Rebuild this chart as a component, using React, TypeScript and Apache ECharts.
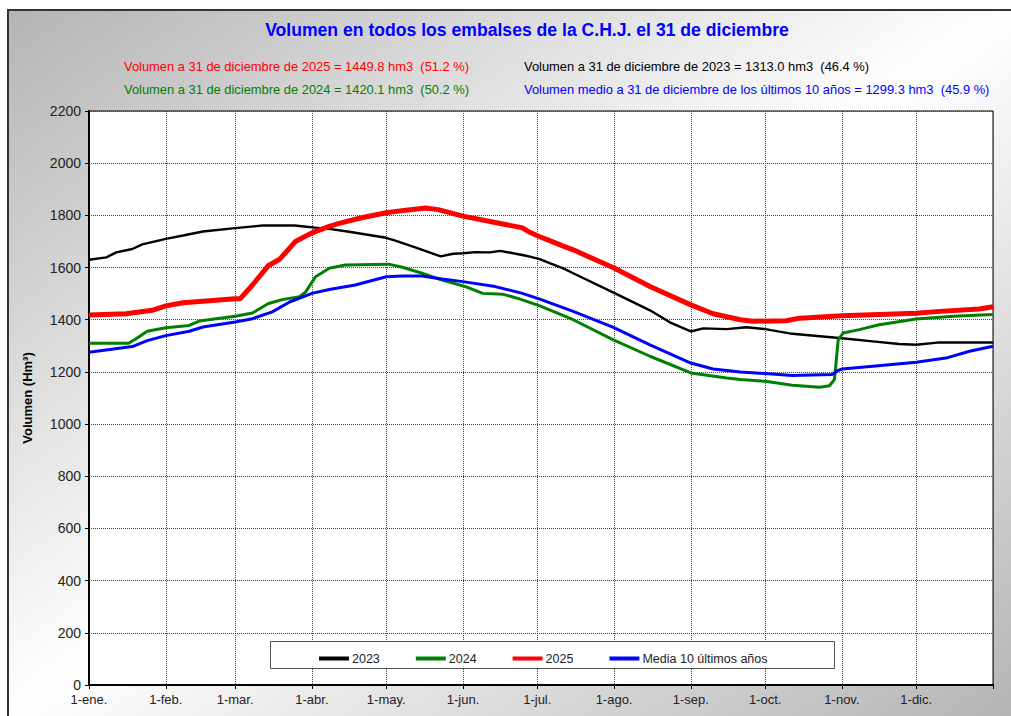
import React, { useEffect, useRef } from "react";
import * as echarts from "echarts";

const monthStarts = [0, 31, 59, 90, 120, 151, 181, 212, 243, 273, 304, 334];
const monthLabels = ["1-ene.", "1-feb.", "1-mar.", "1-abr.", "1-may.", "1-jun.", "1-jul.", "1-ago.", "1-sep.", "1-oct.", "1-nov.", "1-dic."];
const tickDays = [...monthStarts, 365];

const seriesNames = ["2023", "2024", "2025", "Media 10 últimos años"];
const seriesColors = ["#000000", "#008000", "#ff0000", "#0000ff"];
const seriesWidths = [2.4, 3, 5, 3];

const days2023 = [0, 7, 11, 17.5, 21.5, 31, 38, 46, 59, 70, 83, 94, 97, 105, 120, 124, 132, 142, 147, 151, 156, 162, 166, 176, 178, 182, 186, 191.5, 195.5, 212, 226.5, 234.5, 243, 248, 257.5, 265.5, 273, 284, 304, 316.5, 327, 334, 343.5, 365];
const vals2023 = [1630, 1639, 1658, 1671, 1689, 1710, 1723, 1738, 1751, 1761, 1761, 1750, 1748, 1737, 1714, 1702, 1676, 1643, 1653, 1655, 1659, 1658, 1664, 1646, 1642, 1632, 1617, 1597, 1578, 1503, 1436, 1390, 1355, 1367, 1364, 1371, 1364, 1346, 1329, 1317, 1307, 1304, 1313, 1313];

const days2024 = [0, 16, 19, 23.5, 31, 40.5, 44.5, 59, 66, 72.5, 78, 85, 87.5, 91.5, 97, 103.5, 121, 126.5, 134.5, 142.5, 152, 159, 167, 173.5, 182, 195.5, 211.5, 226.5, 243, 257.5, 263, 273, 284, 295, 299, 301, 302.5, 304.5, 311, 319, 334, 349, 365];
const vals2024 = [1310, 1310, 1327, 1356, 1369, 1378, 1395, 1413, 1426, 1462, 1477, 1488, 1507, 1565, 1597, 1610, 1613, 1601, 1578, 1552, 1527, 1501, 1498, 1481, 1453, 1400, 1324, 1260, 1196, 1177, 1171, 1164, 1149, 1141, 1147, 1171, 1324, 1349, 1362, 1381, 1403, 1413, 1420];

const days2025 = [0, 15, 25.5, 31, 38, 59, 61, 66, 72.5, 77, 83.5, 90, 97, 101, 110, 120, 128, 136, 141, 151, 165, 175, 178, 182, 186, 191.5, 195.5, 212, 226.5, 243, 252, 263, 268, 281.5, 287, 304, 334, 343.5, 359.5, 365];
const vals2025 = [1418, 1423, 1436, 1453, 1465, 1480, 1480, 1533, 1608, 1632, 1701, 1733, 1758, 1769, 1791, 1810, 1820, 1828, 1822, 1797, 1771, 1752, 1735, 1718, 1703, 1682, 1668, 1598, 1527, 1457, 1423, 1400, 1394, 1396, 1406, 1415, 1425, 1432, 1441, 1450];

const daysMedia = [0, 17.5, 23.5, 31, 40.5, 46, 59, 66, 74, 81, 90, 97, 107.5, 120, 126.5, 134.5, 142.5, 151, 164, 175, 182, 195.5, 211.5, 226.5, 243, 252, 263, 273, 284, 300, 302.5, 304, 316.5, 334, 346, 355.5, 365];
const valsMedia = [1275, 1297, 1320, 1339, 1356, 1372, 1391, 1404, 1430, 1468, 1501, 1516, 1533, 1565, 1568, 1568, 1556, 1546, 1527, 1501, 1479, 1432, 1372, 1304, 1234, 1211, 1200, 1194, 1186, 1190, 1206, 1211, 1222, 1237, 1253, 1279, 1298];

const titleText = "Volumen en todos los embalses de la C.H.J. el 31 de diciembre";
const infoTexts = [
  "Volumen a 31 de diciembre de 2025 = 1449.8 hm3  (51.2 %)",
  "Volumen a 31 de diciembre de 2023 = 1313.0 hm3  (46.4 %)",
  "Volumen a 31 de diciembre de 2024 = 1420.1 hm3  (50.2 %)",
  "Volumen medio a 31 de diciembre de los últimos 10 años = 1299.3 hm3  (45.9 %)",
];
const infoColors = ["#ff0000", "#000000", "#008000", "#0000ff"];

const allDays = [days2023, days2024, days2025, daysMedia];
const allVals = [vals2023, vals2024, vals2025, valsMedia];

export default function App() {
  const ref = useRef<HTMLDivElement>(null);
  useEffect(() => {
    if (!ref.current) return;
    const chart = echarts.init(ref.current, null, { renderer: "svg" });
    const font = "Arial, 'Liberation Sans', sans-serif";
    const infoPos = [
      [124, 66],
      [524, 66],
      [124, 89],
      [524, 89],
    ];
    chart.setOption({
      animation: false,
      textStyle: { fontFamily: font },
      grid: {
        left: 89,
        top: 111,
        right: 18,
        bottom: 31,
        show: true,
        backgroundColor: "#ffffff",
        borderColor: "#000000",
        borderWidth: 1,
      },
      graphic: [
        {
          type: "rect",
          z: -10,
          shape: { x: 8, y: 10, width: 1020, height: 720 },
          style: {
            fill: {
              type: "linear",
              x: 8,
              y: 10,
              x2: 672,
              y2: 954,
              global: true,
              colorStops: [
                { offset: 0, color: "#b4b4b4" },
                { offset: 0.5, color: "#ffffff" },
                { offset: 1, color: "#b4b4b4" },
              ],
            },
            stroke: "#333333",
            lineWidth: 2,
          },
        },
        {
          type: "text",
          x: 527,
          y: 30,
          style: {
            text: titleText,
            fill: "#0000ff",
            font: `bold 17.6px ${font}`,
            textAlign: "center",
            textVerticalAlign: "middle",
          },
        },
        ...infoTexts.map((t, i) => ({
          type: "text",
          x: infoPos[i][0],
          y: infoPos[i][1],
          style: {
            text: t,
            fill: infoColors[i],
            font: `12.9px ${font}`,
            textAlign: "left",
            textVerticalAlign: "middle",
          },
        })),
        {
          type: "rect",
          z: 3,
          shape: { x: 270.5, y: 641.5, width: 564, height: 27 },
          style: { fill: "#ffffff", stroke: "#555555", lineWidth: 1 },
        },
      ],
      legend: {
        left: 314,
        top: 647,
        z: 5,
        itemGap: 36,
        itemWidth: 30,
        itemHeight: 4,
        icon: "rect",
        textStyle: { fontSize: 12.5, color: "#222222", fontFamily: font, padding: [0, 0, 0, -2] },
        data: seriesNames,
      },
      xAxis: {
        type: "value",
        min: 0,
        max: 365,
        axisLine: { show: true, lineStyle: { color: "#000", width: 2 } },
        axisTick: { show: true, customValues: tickDays, length: 4, lineStyle: { color: "#000" } },
        axisLabel: {
          customValues: monthStarts,
          color: "#222",
          fontSize: 13,
          margin: 8,
          formatter: (v: number) => {
            const i = monthStarts.indexOf(Math.round(v));
            return i >= 0 ? monthLabels[i] : "";
          },
        },
        splitLine: { show: true, lineStyle: { color: "#444", type: [1, 1], width: 1 } },
      },
      yAxis: {
        type: "value",
        min: 0,
        max: 2200,
        interval: 200,
        name: "Volumen (Hm³)",
        nameLocation: "middle",
        nameGap: 55,
        nameTextStyle: { fontWeight: "bold", fontSize: 13, color: "#000" },
        axisLine: { show: true, lineStyle: { color: "#000", width: 2 } },
        axisTick: { show: true, length: 4, lineStyle: { color: "#000" } },
        axisLabel: { color: "#222", fontSize: 14, margin: 8, formatter: (v: number) => String(v) },
        splitLine: { show: true, lineStyle: { color: "#444", type: [1, 1], width: 1 } },
      },
      series: seriesNames.map((name, i) => ({
        name,
        type: "line",
        symbol: "none",
        showSymbol: false,
        z: 2 + i * 0.1,
        itemStyle: { color: seriesColors[i] },
        lineStyle: { color: seriesColors[i], width: seriesWidths[i] },
        data: allDays[i].map((d, j) => [d, allVals[i][j]]),
      })),
    });
    return () => chart.dispose();
  }, []);
  return (
    <div
      ref={ref}
      style={{ position: "absolute", left: 0, top: 0, width: 1011, height: 716 }}
    />
  );
}
